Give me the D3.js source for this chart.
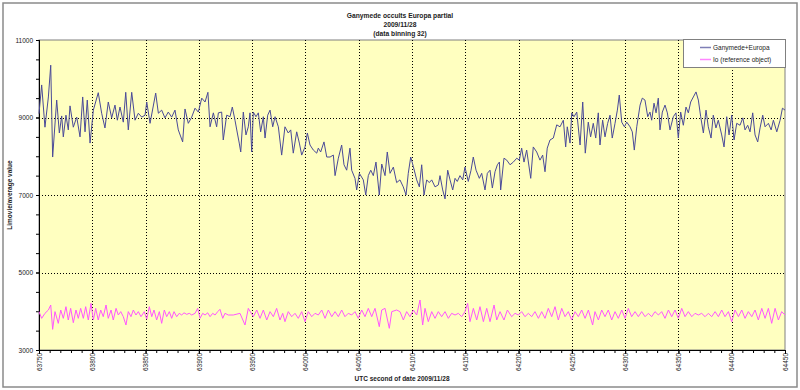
<!DOCTYPE html>
<html lang="en">
<head>
<meta charset="UTF-8">
<title>Ganymede occults Europa partial</title>
<script src="https://d3js.org/d3.v7.min.js"></script>
<style>
  body { margin: 0; background: #fff; }
  text { font-family: "Liberation Sans", Arial, sans-serif; fill: #222; }
</style>
</head>
<body>
<div id="chart"></div>
<script>
// Ganymede+Europa light curve (seconds, Limovie value)
const ganyTime = [63750.0,63752.5,63755.6,63758.8,63761.0,63762.8,63766.6,63769.1,63771.3,63772.8,63775.3,63777.5,63779.1,63782.2,63785.4,63788.5,63791.0,63793.2,63795.3,63797.9,
  63801.0,63805.6,63808.8,63811.9,63815.0,63818.2,63821.3,63823.5,63826.0,63829.1,63831.4,63833.8,63837.0,63840.1,63843.2,63846.4,63849.5,63851.1,63854.2,63859.5,
  63862.0,63865.1,63868.2,63871.3,63874.5,63877.6,63880.7,63884.8,63887.0,63890.1,63893.3,63896.4,63899.5,63902.7,63905.8,63908.5,63910.5,63913.6,63916.7,63918.3,
  63921.4,63922.9,63926.1,63929.2,63931.4,63933.9,63936.1,63937.9,63939.3,63941.7,63944.2,63946.4,63948.0,63949.6,63951.1,63953.6,63955.8,63958.0,63960.5,63962.1,
  63964.6,63966.8,63969.3,63971.5,63974.6,63977.7,63980.8,63983.9,63986.2,63988.6,63991.8,63994.3,63996.5,63999.6,64001.8,64004.3,64007.4,64010.6,64012.1,64014.3,
  64017.4,64020.0,64023.1,64026.2,64027.8,64030.9,64034.0,64036.2,64038.7,64041.8,64043.4,64046.5,64048.1,64050.6,64054.3,64056.6,64059.0,64061.3,64063.7,64066.2,
  64069.3,64071.6,64074.7,64076.8,64079.4,64082.5,64085.6,64088.7,64091.8,64094.4,64096.5,64098.8,64101.2,64104.4,64106.9,64109.1,64111.3,64113.8,64116.2,64118.5,
  64121.6,64124.7,64126.3,64128.8,64131.0,64133.5,64135.7,64138.2,64140.4,64142.5,64145.0,64147.6,64149.7,64152.8,64155.4,64157.5,64160.1,64163.2,64165.4,64168.5,
  64170.7,64173.2,64175.4,64177.9,64180.1,64182.0,64183.2,64186.3,64188.9,64192.0,64195.1,64198.3,64200.7,64202.9,64205.1,64207.6,64211.4,64213.8,64217.0,64220.1,
  64222.6,64224.8,64226.9,64229.5,64232.6,64235.8,64238.9,64242.0,64244.2,64245.7,64248.3,64249.9,64252.0,64254.6,64257.7,64260.2,64262.6,64265.4,64267.6,64270.1,
  64272.4,64274.8,64276.4,64278.9,64281.1,64283.6,64285.8,64287.9,64290.5,64292.7,64294.5,64296.8,64299.3,64301.5,64304.6,64306.7,64308.6,64310.9,64314.0,64316.1,
  64318.6,64321.2,64323.3,64324.9,64327.1,64329.0,64331.1,64332.7,64334.9,64337.4,64339.6,64342.1,64345.2,64347.7,64349.9,64352.1,64354.6,64357.1,64359.3,64361.5,
  64364.0,64366.5,64368.7,64370.9,64373.4,64375.9,64378.0,64380.6,64382.7,64385.2,64387.4,64390.6,64392.8,64395.3,64397.5,64400.0,64402.2,64404.7,64407.8,64410.4,
  64412.5,64415.0,64417.2,64419.7,64421.9,64424.4,64426.6,64429.1,64431.3,64434.4,64437.0,64439.1,64442.3,64445.4,64447.6,64450.0];
const ganyValue = [9100,9840,8750,9530,10350,7980,9450,8600,9040,8500,9060,8680,9300,8750,9010,8500,9530,8630,9450,8340,
  9190,9640,9110,8730,9400,8990,9320,8930,9270,8880,9650,8680,9650,8930,9110,9010,9060,9400,8850,9630,
  9110,9190,8990,9140,9010,9190,8680,8370,9220,8850,9010,9240,9140,9500,9400,9650,8760,9120,8760,9120,
  9140,8420,9060,9020,9270,8930,8600,8340,8110,9140,8550,8760,9120,8110,9140,9020,9120,8630,9020,8470,
  9060,9190,8760,9020,8760,8030,8760,8600,8680,8080,8630,8340,8030,8240,8600,8290,8160,8080,8210,8110,
  8370,7980,7980,8030,7500,7950,8290,7780,7640,8210,7640,7430,7130,7560,7390,7000,7500,7640,7500,7850,
  7000,7800,7500,8110,7560,7720,7320,7390,7210,7000,7560,7980,7740,7390,7210,7780,7000,7390,7320,7390,
  7210,7260,7500,7130,6900,7640,7390,7130,7430,7350,7500,7390,7720,7350,7640,7980,7640,7430,7560,7130,
  7560,7640,7180,7600,7780,7850,7130,7950,7900,7780,7850,7950,7900,8210,7850,8160,7430,8240,8110,7900,
  8030,7600,8210,8420,8470,8810,8760,8930,8240,8760,8340,9120,9020,9140,8290,9400,8080,8880,8500,8850,
  8470,9120,8290,8930,8500,8850,9060,8470,8850,9190,9580,8880,8760,8880,8760,8630,8160,8760,9320,9500,
  9450,9020,9140,8930,9370,9120,9500,8680,9140,9320,9120,8680,9020,9120,8470,9140,8800,9270,9120,9400,
  9530,9660,9450,9020,8600,9190,8760,8470,9060,8730,8930,8550,8240,9020,8550,9060,8420,8850,8800,8990,
  8680,8800,8630,9120,8550,8370,8730,9060,8760,8850,8680,8930,8630,8930,9240,9190];

// Io (reference object)
const ioTime = [63750.0,63752.5,63755.6,63758.8,63761.0,63762.8,63765.0,63768.1,63770.4,63772.8,63775.3,63777.5,63779.7,63782.2,63784.7,63786.9,63789.1,63791.6,63793.8,63796.3,
  63798.8,63801.0,63803.2,63805.6,63807.9,63810.3,63812.9,63815.0,63817.6,63819.7,63822.3,63824.4,63826.7,63829.1,63831.6,63833.8,63836.3,63838.5,63841.0,63843.2,
  63845.7,63848.8,63851.1,63853.5,63855.8,63857.9,63860.4,63862.9,63865.1,63867.6,63869.8,63872.3,63874.5,63876.7,63879.2,63881.6,63883.9,63886.1,63888.6,63891.0,
  63893.3,63896.4,63898.9,63901.1,63903.6,63905.8,63908.3,63910.5,63913.0,63915.2,63917.7,63919.8,63922.4,63924.5,63927.6,63932.3,63938.6,63943.3,63946.4,63951.1,
  63954.3,63957.4,63960.5,63963.7,63966.8,63969.9,63973.0,63976.1,63978.7,63980.8,63983.9,63987.1,63990.2,63993.3,63996.5,63999.6,64002.7,64005.9,64009.0,64012.1,
  64015.3,64018.4,64021.5,64024.7,64027.8,64030.9,64034.0,64037.1,64040.2,64043.4,64046.5,64049.6,64052.8,64055.9,64059.0,64062.2,64065.3,64069.3,64071.6,64074.7,
  64078.7,64081.0,64085.6,64088.7,64091.9,64095.0,64098.1,64101.3,64104.4,64107.5,64110.0,64112.2,64115.3,64118.5,64121.6,64124.7,64127.8,64131.0,64134.1,64137.2,
  64140.4,64143.5,64146.6,64149.7,64152.2,64154.4,64157.6,64160.7,64163.8,64167.0,64170.1,64173.2,64177.0,64179.5,64182.6,64186.3,64189.5,64193.5,64196.7,64199.8,
  64202.9,64206.0,64209.2,64212.3,64215.4,64218.6,64221.7,64224.8,64227.9,64231.1,64234.2,64237.3,64240.5,64243.6,64246.7,64249.8,64253.0,64256.1,64259.2,64262.4,
  64265.5,64269.5,64271.7,64274.9,64278.0,64281.1,64284.2,64287.4,64290.5,64293.6,64296.8,64299.9,64303.0,64306.1,64309.3,64312.4,64315.5,64318.7,64321.8,64324.9,
  64328.0,64331.2,64334.3,64337.4,64340.6,64343.7,64346.8,64349.9,64353.1,64356.2,64359.3,64362.5,64365.6,64368.7,64371.8,64375.0,64378.1,64381.2,64384.4,64387.5,
  64390.6,64393.7,64396.9,64400.0,64403.1,64406.3,64409.4,64412.5,64415.6,64418.8,64421.9,64425.0,64428.2,64431.3,64434.4,64437.5,64440.7,64443.8,64446.9,64450.0];
const ioValue = [3990,3817,3946,4032,4161,3533,3990,3688,4032,3817,4118,3774,4075,3705,4032,3817,4075,3817,4118,3774,
  4204,3774,4075,3774,4032,3860,4161,3817,4032,3774,4075,3903,3990,3860,3645,3990,3860,4032,3903,3990,
  3860,3990,3795,4118,3860,4032,3774,3990,3688,4032,3860,3990,3817,3990,3860,3946,3903,3960,3920,3946,
  3903,3946,4075,3817,3946,3903,3960,3860,3946,3903,3990,4050,3817,3946,3903,3903,3946,3645,4075,3860,
  4032,3817,4032,3774,3990,3860,4075,3774,3946,3731,3990,3860,3946,3817,3990,3731,3990,3860,3946,3903,
  4032,3817,4032,3860,3990,3860,4032,3860,3946,3903,3990,3817,4032,3860,4075,3860,4075,3602,4032,4075,
  3559,3990,4032,3990,3774,3990,3860,4032,3903,4290,3645,4075,3731,3990,3817,3990,3860,3990,3817,3946,
  3903,3946,3860,3990,4204,3731,4075,3774,4118,3731,4075,3731,4161,3774,3990,3774,4032,3860,3946,3903,
  3990,3860,3946,3860,3990,3817,3990,3817,4075,3860,4118,3774,4075,3860,3990,3774,3990,3860,4032,3817,
  4032,3645,3990,3774,4032,3860,4032,3774,3990,3817,4032,3817,4075,3860,3990,3860,3990,3860,3946,3860,
  3990,3903,3990,3817,4032,3860,4032,3817,4075,3860,3990,3860,3946,3903,3946,3860,3946,3860,3990,3860,
  4032,3860,3990,3731,4032,3860,4032,3817,3990,3860,4032,3774,4075,3817,4075,3688,4075,3774,3990,3903];

const yTicks = [3000, 5000, 7000, 9000, 11000];
const seriesNames = ["Ganymede+Europa", "Io (reference object)"];
const seriesColors = ["#4a4a98", "#ff55ff"];
const titleLines = ["Ganymede occults Europa partial", "2009/11/28", "(data binning 32)"];

const W = 800, H = 390;
const m = { left: 39, top: 40, right: 785, bottom: 350 };

const svg = d3.select("#chart").append("svg")
  .attr("width", W).attr("height", H);

svg.append("rect").attr("width", W).attr("height", H).attr("fill", "#fff");
svg.append("rect")
  .attr("x", 3).attr("y", 3).attr("width", W - 6).attr("height", H - 6)
  .attr("fill", "none").attr("stroke", "#8a8a8a").attr("stroke-width", 1.5);

const x = d3.scaleLinear().domain([63750, 64450]).range([m.left, m.right]);
const y = d3.scaleLinear().domain([3000, 11000]).range([m.bottom, m.top]);

// plot area
svg.append("rect")
  .attr("x", m.left).attr("y", m.top)
  .attr("width", m.right - m.left).attr("height", m.bottom - m.top)
  .attr("fill", "#ffffc0").attr("stroke", "#808080");

// grid
const xMajor = d3.range(63750, 64451, 50);
svg.append("g").selectAll("line")
  .data(xMajor.slice(1, -1)).join("line")
  .attr("x1", d => Math.round(x(d)) + 0.5).attr("x2", d => Math.round(x(d)) + 0.5)
  .attr("y1", m.top).attr("y2", m.bottom)
  .attr("stroke", "#000").attr("stroke-dasharray", "1,2");
svg.append("g").selectAll("line")
  .data(yTicks.slice(1, -1)).join("line")
  .attr("x1", m.left).attr("x2", m.right)
  .attr("y1", d => Math.round(y(d)) + 0.5).attr("y2", d => Math.round(y(d)) + 0.5)
  .attr("stroke", "#000").attr("stroke-dasharray", "1,2");

// axes
const yMinor = svg.append("g").attr("transform", `translate(${m.left},0)`)
  .call(d3.axisLeft(y).tickValues(d3.range(3000, 11001, 500)).tickSize(3).tickFormat(""));
const yAxis = svg.append("g").attr("transform", `translate(${m.left},0)`)
  .call(d3.axisLeft(y).tickValues(yTicks).tickSize(3).tickPadding(3).tickFormat(d3.format("d")));
const xMinor = svg.append("g").attr("transform", `translate(0,${m.bottom})`)
  .call(d3.axisBottom(x).tickValues(d3.range(63750, 64451, 10)).tickSize(3).tickFormat(""));
const xAxis = svg.append("g").attr("transform", `translate(0,${m.bottom})`)
  .call(d3.axisBottom(x).tickValues(xMajor).tickSize(4).tickFormat(d3.format("d")));

[yMinor, yAxis, xMinor, xAxis].forEach(g => {
  g.select(".domain").attr("stroke", "#000");
  g.selectAll(".tick line").attr("stroke", "#000");
});
yAxis.selectAll("text").attr("font-size", 6.5).attr("fill", "#222");
xAxis.selectAll("text")
  .attr("font-size", 6.5).attr("fill", "#222")
  .attr("transform", "rotate(-90)")
  .attr("text-anchor", "end")
  .attr("x", -3).attr("y", 0).attr("dy", "0.33em");

// series
const line = d3.line().x(d => x(d[0])).y(d => y(d[1]));
const io = d3.zip(ioTime, ioValue);
const gany = d3.zip(ganyTime, ganyValue);
svg.append("path").datum(io)
  .attr("d", line).attr("fill", "none")
  .attr("stroke", seriesColors[1]).attr("stroke-width", 1);
svg.append("path").datum(gany)
  .attr("d", line).attr("fill", "none")
  .attr("stroke", seriesColors[0]).attr("stroke-width", 1);

// titles
svg.append("g").selectAll("text").data(titleLines).join("text")
  .attr("x", 400).attr("y", (d, i) => 17.5 + i * 9)
  .attr("text-anchor", "middle").attr("font-size", 6.7).attr("font-weight", "bold")
  .text(d => d);

svg.append("text")
  .attr("x", 402).attr("y", 381)
  .attr("text-anchor", "middle").attr("font-size", 6.5).attr("font-weight", "bold")
  .text("UTC second of date 2009/11/28");

svg.append("text")
  .attr("transform", `translate(12,${(m.top + m.bottom) / 2}) rotate(-90)`)
  .attr("text-anchor", "middle").attr("font-size", 6.5).attr("font-weight", "bold")
  .text("Limovie/average value");

// legend
const lg = svg.append("g").attr("transform", "translate(683,39)");
lg.append("rect").attr("x", 0.5).attr("y", 0.5).attr("width", 102).attr("height", 28)
  .attr("fill", "#fff").attr("stroke", "#808080");
seriesNames.forEach((name, i) => {
  const ly = 8.5 + i * 12;
  lg.append("line").attr("x1", 17).attr("x2", 28).attr("y1", ly).attr("y2", ly)
    .attr("stroke", seriesColors[i]).attr("stroke-width", 1.5).attr("opacity", 0.7);
  lg.append("text").attr("x", 30).attr("y", ly).attr("dy", "0.35em")
    .attr("font-size", 6.5).text(name);
});
</script>
</body>
</html>
